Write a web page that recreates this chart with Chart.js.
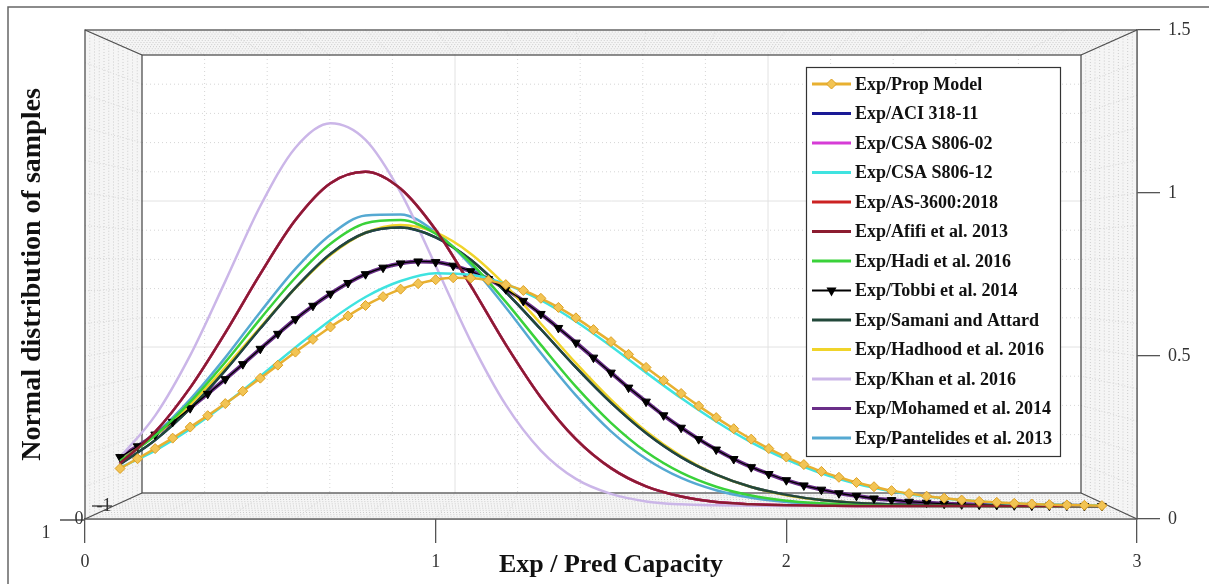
<!DOCTYPE html>
<html>
<head>
<meta charset="utf-8">
<script src="https://cdn.jsdelivr.net/npm/chart.js@4/dist/chart.umd.min.js"></script>
<style>
  html, body { margin: 0; padding: 0; background: #fff; }
  #wrap { width: 1209px; height: 584px; position: relative; }
</style>
</head>
<body>
<div id="wrap"><canvas id="c"></canvas></div>
<script>
// Pontos de avaliação das curvas (fina = com marcadores, grossa = só linha).
const xFine = [
  0.10, 0.15, 0.20, 0.25, 0.30, 0.35, 0.40, 0.45, 0.50, 0.55,
  0.60, 0.65, 0.70, 0.75, 0.80, 0.85, 0.90, 0.95, 1.00, 1.05,
  1.10, 1.15, 1.20, 1.25, 1.30, 1.35, 1.40, 1.45, 1.50, 1.55,
  1.60, 1.65, 1.70, 1.75, 1.80, 1.85, 1.90, 1.95, 2.00, 2.05,
  2.10, 2.15, 2.20, 2.25, 2.30, 2.35, 2.40, 2.45, 2.50, 2.55,
  2.60, 2.65, 2.70, 2.75, 2.80, 2.85, 2.90,
];
const xCoarse = [
  0.1, 0.2, 0.3, 0.4, 0.5, 0.6, 0.7, 0.8, 0.9, 1.0,
  1.1, 1.2, 1.3, 1.4, 1.5, 1.6, 1.7, 1.8, 1.9, 2.0,
  2.1, 2.2, 2.3, 2.4, 2.5, 2.6, 2.7, 2.8, 2.9,
];

const propModel = [
  0.115, 0.145, 0.176, 0.208, 0.242, 0.277, 0.314, 0.352, 0.392, 0.432,
  0.472, 0.511, 0.549, 0.583, 0.615, 0.642, 0.665, 0.682, 0.694, 0.700,
  0.699, 0.692, 0.679, 0.661, 0.637, 0.609, 0.577, 0.541, 0.504, 0.465,
  0.425, 0.385, 0.345, 0.307, 0.271, 0.237, 0.205, 0.176, 0.150, 0.127,
  0.106, 0.088, 0.072, 0.059, 0.047, 0.038, 0.030, 0.024, 0.018, 0.014,
  0.011, 0.008, 0.006, 0.004, 0.003, 0.002, 0.001,
];
const tobbi = [
  0.150, 0.183, 0.219, 0.258, 0.300, 0.344, 0.389, 0.435, 0.482, 0.528,
  0.573, 0.614, 0.651, 0.684, 0.711, 0.731, 0.744, 0.750, 0.748, 0.737,
  0.720, 0.696, 0.665, 0.629, 0.589, 0.546, 0.501, 0.455, 0.409, 0.363,
  0.320, 0.278, 0.240, 0.205, 0.173, 0.144, 0.119, 0.098, 0.079, 0.063,
  0.050, 0.039, 0.031, 0.023, 0.018, 0.013, 0.010, 0.007, 0.005, 0.004,
  0.003, 0.002, 0.001, 0.001, 0.001, 0.000, 0.000,
];
const mohamed = tobbi;

const khan = [
  0.149, 0.277, 0.462, 0.689, 0.920, 1.099, 1.174, 1.123, 0.962, 0.737,
  0.505, 0.310, 0.170, 0.083, 0.037, 0.014, 0.005, 0.002, 0.001, 0,
  0, 0, 0, 0, 0, 0, 0, 0, 0,
];
const afifi = [
  0.131, 0.227, 0.363, 0.531, 0.712, 0.877, 0.990, 1.025, 0.973, 0.847,
  0.676, 0.495, 0.333, 0.205, 0.116, 0.060, 0.029, 0.012, 0.005, 0.002,
  0.001, 0, 0, 0, 0, 0, 0, 0, 0,
];
const pantelides = [
  0.138, 0.220, 0.327, 0.455, 0.595, 0.727, 0.832, 0.891, 0.894, 0.840,
  0.739, 0.609, 0.469, 0.339, 0.229, 0.145, 0.086, 0.048, 0.025, 0.012,
  0.006, 0.002, 0.001, 0, 0, 0, 0, 0, 0,
];
const hadi = [
  0.138, 0.216, 0.319, 0.441, 0.574, 0.700, 0.804, 0.867, 0.877, 0.835,
  0.746, 0.626, 0.494, 0.366, 0.255, 0.166, 0.102, 0.059, 0.032, 0.016,
  0.008, 0.003, 0.001, 0, 0, 0, 0, 0, 0,
];
const samani = [
  0.128, 0.202, 0.299, 0.416, 0.545, 0.669, 0.773, 0.838, 0.854, 0.824,
  0.755, 0.656, 0.542, 0.425, 0.317, 0.224, 0.150, 0.096, 0.058, 0.034,
  0.018, 0.009, 0.005, 0.002, 0.001, 0, 0, 0, 0,
];
const hadhood = [
  0.140, 0.215, 0.311, 0.425, 0.548, 0.668, 0.770, 0.838, 0.862, 0.839,
  0.774, 0.676, 0.559, 0.438, 0.326, 0.229, 0.153, 0.096, 0.058, 0.033,
  0.018, 0.009, 0.004, 0.002, 0.001, 0, 0, 0, 0,
];
const csa12 = [
  0.118, 0.170, 0.236, 0.313, 0.398, 0.486, 0.570, 0.641, 0.690, 0.714,
  0.709, 0.680, 0.631, 0.566, 0.490, 0.409, 0.331, 0.259, 0.195, 0.143,
  0.100, 0.068, 0.045, 0.029, 0.018, 0.010, 0.006, 0.003, 0.002,
];
// Curvas que ficam encobertas pelas outras.
const aci = samani;
const csa02 = afifi;
const as3600 = afifi;

const SERIF = '"Liberation Serif", "Times New Roman", serif';
Chart.defaults.font.family = SERIF;

function pts(xs, ys) {
  return xs.map((x, i) => ({ x, y: ys[i] }));
}

function line(label, xs, ys, color, extra) {
  return Object.assign({
    label,
    data: pts(xs, ys),
    borderColor: color,
    backgroundColor: color,
    borderWidth: 2.5,
    pointRadius: 0,
    cubicInterpolationMode: "monotone",
    yAxisID: "yd",
    order: 0,
  }, extra || {});
}

const datasets = [
  line("Exp/Prop Model", xFine, propModel, "#e8b030", {
    pointStyle: "rectRot", pointRadius: 5, pointBackgroundColor: "#f2c454",
    pointBorderColor: "#dda024", pointBorderWidth: 1,
  }),
  line("Exp/ACI 318-11", xCoarse, aci, "#1a1a96", { order: 1 }),
  line("Exp/CSA S806-02", xCoarse, csa02, "#d63cd6", { order: 1 }),
  line("Exp/CSA S806-12", xCoarse, csa12, "#3fe3e0"),
  line("Exp/AS-3600:2018", xCoarse, as3600, "#cc2222", { order: 1 }),
  line("Exp/Afifi et al. 2013", xCoarse, afifi, "#8c1c30"),
  line("Exp/Hadi et al. 2016", xCoarse, hadi, "#3ad23a"),
  line("Exp/Tobbi et al. 2014", xFine, tobbi, "#000000", {
    borderWidth: 1.3, pointStyle: "triangle", rotation: 180, pointRadius: 5,
    pointBackgroundColor: "#000", pointBorderColor: "#000", pointBorderWidth: 1,
  }),
  line("Exp/Samani and Attard", xCoarse, samani, "#22483a"),
  line("Exp/Hadhood et al. 2016", xCoarse, hadhood, "#f0d42a"),
  line("Exp/Khan et al. 2016", xCoarse, khan, "#cbb6e8"),
  line("Exp/Mohamed et al. 2014", xFine, mohamed, "#6a2e88", { borderWidth: 4 }),
  line("Exp/Pantelides et al. 2013", xCoarse, pantelides, "#55a9d2"),
];

// Caixa 3D do eixo: paredes pontilhadas, parede do fundo com grade.
const box3d = {
  id: "box3d",
  beforeDatasetsDraw(chart) {
    const { ctx, chartArea: a } = chart;
    const o = { l: a.left, t: a.top, r: a.right, b: a.bottom };
    const n = { l: o.l + 57, t: o.t + 25, r: o.r - 56, b: o.b - 26 };
    const lerp = (p, q, k) => p + (q - p) * k;
    ctx.save();

    // paredes laterais, teto e piso
    ctx.beginPath();
    ctx.rect(o.l, o.t, o.r - o.l, o.b - o.t);
    ctx.rect(n.l, n.t, n.r - n.l, n.b - n.t);
    ctx.fillStyle = "#f5f5f5";
    ctx.fill("evenodd");

    ctx.strokeStyle = "#cdcdcd";
    ctx.lineWidth = 1;
    ctx.setLineDash([1, 2]);
    for (let k = 1; k < 12; k++) {
      const f = k / 12;
      ctx.strokeRect(lerp(o.l, n.l, f), lerp(o.t, n.t, f),
        lerp(o.r, n.r, f) - lerp(o.l, n.l, f), lerp(o.b, n.b, f) - lerp(o.t, n.t, f));
    }
    ctx.strokeStyle = "#d8d8d8";
    for (let k = 0; k <= 15; k++) {
      const f = k / 15;
      const ox = lerp(o.l, o.r, f), nx = lerp(n.l, n.r, f);
      ctx.beginPath();
      ctx.moveTo(ox, o.t); ctx.lineTo(nx, n.t);
      ctx.moveTo(ox, o.b); ctx.lineTo(nx, n.b);
      ctx.stroke();
    }
    for (let k = 0; k <= 15; k++) {
      const f = k / 15;
      const oy = lerp(o.b, o.t, f), ny = lerp(n.b, n.t, f);
      ctx.beginPath();
      ctx.moveTo(o.l, oy); ctx.lineTo(n.l, ny);
      ctx.moveTo(o.r, oy); ctx.lineTo(n.r, ny);
      ctx.stroke();
    }

    // grade da parede do fundo
    ctx.strokeStyle = "#d6d6d6";
    ctx.setLineDash([1, 3]);
    for (let k = 1; k < 15; k++) {
      if (k % 5 === 0) continue;
      const x = lerp(n.l, n.r, k / 15);
      ctx.beginPath(); ctx.moveTo(x, n.t); ctx.lineTo(x, n.b); ctx.stroke();
      const y = lerp(n.b, n.t, k / 15);
      ctx.beginPath(); ctx.moveTo(n.l, y); ctx.lineTo(n.r, y); ctx.stroke();
    }
    ctx.setLineDash([]);
    ctx.strokeStyle = "#e2e2e2";
    [5, 10].forEach((k) => {
      const x = lerp(n.l, n.r, k / 15);
      ctx.beginPath(); ctx.moveTo(x, n.t); ctx.lineTo(x, n.b); ctx.stroke();
      const y = lerp(n.b, n.t, k / 15);
      ctx.beginPath(); ctx.moveTo(n.l, y); ctx.lineTo(n.r, y); ctx.stroke();
    });

    // arestas
    ctx.strokeStyle = "#505050";
    ctx.lineWidth = 1.3;
    ctx.strokeRect(o.l, o.t, o.r - o.l, o.b - o.t);
    ctx.strokeRect(n.l, n.t, n.r - n.l, n.b - n.t);
    ctx.beginPath();
    ctx.moveTo(o.l, o.t); ctx.lineTo(n.l, n.t);
    ctx.moveTo(o.r, o.t); ctx.lineTo(n.r, n.t);
    ctx.moveTo(o.l, o.b); ctx.lineTo(n.l, n.b);
    ctx.moveTo(o.r, o.b); ctx.lineTo(n.r, n.b);
    // marcas do eixo de profundidade
    ctx.moveTo(o.l - 25, o.b + 1); ctx.lineTo(o.l, o.b + 1);
    ctx.moveTo(o.l + 7, o.b - 13); ctx.lineTo(o.l + 27, o.b - 13);
    ctx.stroke();

    ctx.fillStyle = "#333";
    ctx.font = "18px " + SERIF;
    ctx.textAlign = "center";
    ctx.textBaseline = "middle";
    ctx.fillText("1", o.l - 39, o.b + 14);
    ctx.fillText("0", o.l - 6, o.b);
    ctx.fillText("-1", o.l + 19, o.b - 13);
    ctx.restore();
  },
};

// Legenda desenhada dentro da área do gráfico.
const boxLegend = {
  id: "boxLegend",
  afterDatasetsDraw(chart) {
    const { ctx } = chart;
    const L = 806, T = 67, W = 254, H = 389;
    ctx.save();
    ctx.fillStyle = "#fff";
    ctx.fillRect(L, T, W, H);
    ctx.strokeStyle = "#333";
    ctx.lineWidth = 1.2;
    ctx.strokeRect(L + 0.5, T + 0.5, W, H);
    ctx.font = "bold 18px " + SERIF;
    ctx.textBaseline = "middle";
    ctx.textAlign = "left";
    chart.data.datasets.forEach((ds, i) => {
      const y = T + 17 + i * 29.5;
      ctx.strokeStyle = ds.borderColor;
      ctx.lineWidth = i === 7 ? 2 : 3;
      ctx.beginPath(); ctx.moveTo(L + 6, y); ctx.lineTo(L + 45, y); ctx.stroke();
      const cx = L + 25.5;
      if (ds.pointStyle === "rectRot") {
        ctx.fillStyle = ds.pointBackgroundColor;
        ctx.strokeStyle = ds.pointBorderColor;
        ctx.lineWidth = 1;
        ctx.beginPath();
        ctx.moveTo(cx, y - 5); ctx.lineTo(cx + 5, y); ctx.lineTo(cx, y + 5); ctx.lineTo(cx - 5, y);
        ctx.closePath(); ctx.fill(); ctx.stroke();
      } else if (ds.pointStyle === "triangle") {
        ctx.fillStyle = "#000";
        ctx.beginPath();
        ctx.moveTo(cx - 5, y - 3); ctx.lineTo(cx + 5, y - 3); ctx.lineTo(cx, y + 6);
        ctx.closePath(); ctx.fill();
      }
      ctx.fillStyle = "#111";
      ctx.fillText(ds.label, L + 49, y + 1);
    });
    ctx.restore();
  },
};

// Moldura da figura.
const frame = {
  id: "frame",
  afterDraw(chart) {
    const { ctx } = chart;
    ctx.save();
    ctx.strokeStyle = "#666";
    ctx.lineWidth = 1.5;
    ctx.beginPath();
    ctx.moveTo(8, chart.height); ctx.lineTo(8, 7); ctx.lineTo(chart.width, 7);
    ctx.stroke();
    ctx.restore();
  },
};

new Chart(document.getElementById("c"), {
  type: "line",
  data: { datasets },
  plugins: [box3d, boxLegend, frame],
  options: {
    responsive: true,
    maintainAspectRatio: false,
    animation: false,
    layout: { padding: { top: 30, left: 0, right: 0, bottom: 0 } },
    plugins: { legend: { display: false }, tooltip: { enabled: false } },
    scales: {
      x: {
        type: "linear", position: "bottom", min: 0, max: 3,
        ticks: { stepSize: 1, padding: 8, color: "#333", font: { size: 18 } },
        grid: { drawOnChartArea: false, color: "#555", tickLength: 24, lineWidth: 1.3 },
        border: { color: "#505050", width: 1.3 },
        title: {
          display: true, text: "Exp / Pred Capacity", color: "#111",
          font: { size: 26, weight: "bold" }, padding: { top: 0, bottom: 3 },
        },
        afterFit(s) { s.height = 65; },
      },
      y: {
        position: "right", min: 0, max: 1.5,
        ticks: {
          stepSize: 0.5, padding: 8, color: "#333", font: { size: 18 },
          callback: (v) => String(v),
        },
        grid: { drawOnChartArea: false, color: "#555", tickLength: 23, lineWidth: 1.3 },
        border: { color: "#505050", width: 1.3 },
        afterFit(s) { s.width = 72; },
      },
      yl: {
        position: "left", min: 0, max: 1,
        ticks: { display: false },
        grid: { display: false },
        border: { display: false },
        title: {
          display: true, text: "Normal distribution of samples", color: "#111",
          font: { size: 28, weight: "bold" }, padding: { top: 16, bottom: 0 },
        },
        afterFit(s) { s.width = 85; },
      },
      yd: { display: false, min: -0.04, max: 1.46 },
    },
  },
});
</script>
</body>
</html>
